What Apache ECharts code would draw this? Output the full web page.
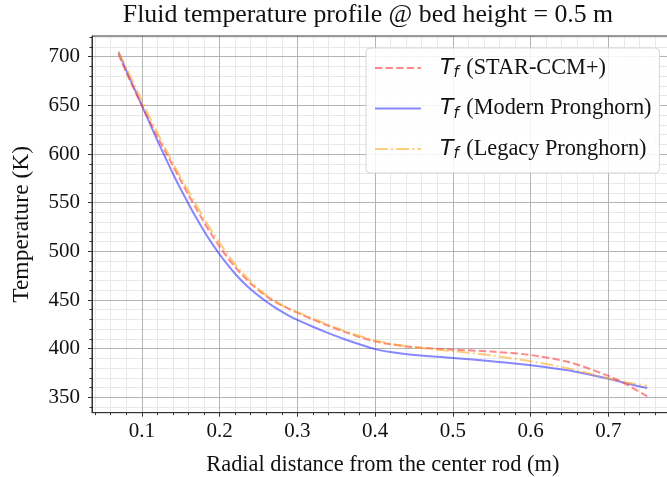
<!DOCTYPE html>
<html><head><meta charset="utf-8">
<script src="https://cdn.jsdelivr.net/npm/echarts@6/dist/echarts.min.js"></script>
<style>html,body{margin:0;padding:0;background:#fff}#c{width:667px;height:477px}</style>
</head><body><div id="c"></div>
<script>
// ---- data ----
const radius = [0.07, 0.08, 0.09, 0.10, 0.11, 0.12, 0.13, 0.14, 0.15, 0.16, 0.17, 0.18,
                0.19, 0.20, 0.21, 0.22, 0.23, 0.24, 0.25, 0.26, 0.27, 0.28, 0.29, 0.30,
                0.32, 0.34, 0.36, 0.38, 0.40, 0.42, 0.45, 0.50, 0.55, 0.60, 0.65, 0.70, 0.725, 0.75];
const tStarCCM = [703, 684, 667, 650, 634, 618, 603, 588, 573, 558, 544, 530,
                  517, 505, 494, 484, 475, 467, 460, 454, 449, 444.5, 440.5, 437,
                  430, 423.5, 417.5, 412, 407.5, 404.5, 401.5, 399, 397, 393.5, 386, 372, 362.5, 351];
const tModern  = [705, 686, 668, 650, 632, 614, 597, 580, 564, 549, 534.5, 521,
                  508.5, 497, 486.5, 477, 468.5, 461, 454.5, 448.5, 443, 438, 433.5, 429.5,
                  422.5, 416, 410, 404.5, 399.5, 396.5, 393.5, 390.5, 387, 383, 377.5, 369, 364, 359.5];
const tLegacy  = [705, 689, 672, 655, 638, 622, 606, 591, 576, 562, 548, 534,
                  521, 509, 497.5, 487, 477.5, 469, 461.5, 455, 449.5, 445, 441, 437.5,
                  431, 424.5, 418.5, 413, 408.5, 405, 401.5, 397.5, 393, 387, 379.5, 369.5, 365, 362];
const seriesNames = ['STAR-CCM+', 'Modern Pronghorn', 'Legacy Pronghorn'];
const xMajorTicks = [0.1, 0.2, 0.3, 0.4, 0.5, 0.6, 0.7];
const xMinorTicks = [0.04, 0.06, 0.08, 0.12, 0.14, 0.16, 0.18, 0.22, 0.24, 0.26, 0.28,
                     0.32, 0.34, 0.36, 0.38, 0.42, 0.44, 0.46, 0.48, 0.52, 0.54, 0.56, 0.58,
                     0.62, 0.64, 0.66, 0.68, 0.72, 0.74, 0.76, 0.78];
const yMajorTicks = [350, 400, 450, 500, 550, 600, 650, 700];
const yMinorTicks = [340, 360, 370, 380, 390, 410, 420, 430, 440, 460, 470, 480, 490,
                     510, 520, 530, 540, 560, 570, 580, 590, 610, 620, 630, 640,
                     660, 670, 680, 690, 710, 720];
const xRange = [0.036, 0.784];
const yRange = [334.2, 721.3];

const serif = 'Liberation Serif';
const pairs = ys => radius.map((x, i) => [x, ys[i]]);

const gridRect = { left: 92, top: 36, width: 581.7, height: 376.7, outerBoundsMode: 'none', containLabel: false };

const chart = echarts.init(document.getElementById('c'), null, { renderer: 'canvas' });
chart.setOption({
  animation: false,
  backgroundColor: '#fff',
  title: {
    text: 'Fluid temperature profile @ bed height = 0.5 m',
    left: 363, top: -3, textAlign: 'center',
    textStyle: { fontFamily: serif, fontSize: 25.8, fontWeight: 'normal', color: '#111' }
  },
  grid: [
    Object.assign({ show: true, borderColor: '#333', borderWidth: 1, backgroundColor: 'transparent', z: 3 }, gridRect),
    Object.assign({ show: false }, gridRect)
  ],
  xAxis: [
    {
      type: 'value', gridIndex: 0, min: xRange[0], max: xRange[1],
      name: 'Radial distance from the center rod (m)', nameLocation: 'middle', nameGap: 41,
      nameTextStyle: { fontFamily: serif, fontSize: 22.4, color: '#111' },
      axisLine: { show: true, onZero: false, lineStyle: { color: '#333', width: 1 } },
      axisTick: { show: true, inside: false, length: 4, customValues: xMajorTicks, lineStyle: { color: '#333', width: 1 } },
      axisLabel: { customValues: xMajorTicks, margin: 8, fontFamily: serif, fontSize: 21, color: '#111',
                   formatter: v => v.toFixed(1) },
      splitLine: { show: true, lineStyle: { color: '#b4b4b4', width: 1 } },
      z: 2
    },
    {
      type: 'value', gridIndex: 1, min: xRange[0], max: xRange[1],
      axisLine: { show: false },
      axisTick: { show: true, inside: false, length: 2.5, customValues: xMinorTicks, lineStyle: { color: '#333', width: 1 } },
      axisLabel: { show: false, customValues: xMinorTicks },
      splitLine: { show: true, lineStyle: { color: '#e8e8e8', width: 1 } },
      z: 1
    }
  ],
  yAxis: [
    {
      type: 'value', gridIndex: 0, min: yRange[0], max: yRange[1],
      name: 'Temperature (K)', nameLocation: 'middle', nameGap: 58,
      nameTextStyle: { fontFamily: serif, fontSize: 23.5, color: '#111' },
      axisLine: { show: true, onZero: false, lineStyle: { color: '#333', width: 1 } },
      axisTick: { show: true, inside: false, length: 4, customValues: yMajorTicks, lineStyle: { color: '#333', width: 1 } },
      axisLabel: { customValues: yMajorTicks, margin: 12, fontFamily: serif, fontSize: 21, color: '#111' },
      splitLine: { show: true, lineStyle: { color: '#b4b4b4', width: 1 } },
      z: 2
    },
    {
      type: 'value', gridIndex: 1, min: yRange[0], max: yRange[1],
      axisLine: { show: false },
      axisTick: { show: true, inside: false, length: 2.5, customValues: yMinorTicks, lineStyle: { color: '#333', width: 1 } },
      axisLabel: { show: false, customValues: yMinorTicks },
      splitLine: { show: true, lineStyle: { color: '#e8e8e8', width: 1 } },
      z: 1
    }
  ],
  legend: {
    orient: 'vertical', left: 366, top: 48,
    padding: [9, 8, 11, 8],
    itemWidth: 46, itemHeight: 14, itemGap: 16.5,
    itemStyle: { opacity: 0 },
    backgroundColor: 'rgba(255,255,255,0.85)', borderColor: '#d6d6d6', borderWidth: 1, borderRadius: 4,
    formatter: name => '{t|T}{s|f}{n| (' + name + ')}',
    textStyle: {
      color: '#111', padding: [0, 0, 0, 14],
      rich: {
        t: { fontFamily: 'DejaVu Sans', fontStyle: 'italic', fontSize: 22, lineHeight: 26, color: '#111' },
        s: { fontFamily: 'DejaVu Sans', fontStyle: 'italic', fontSize: 15, lineHeight: 6, verticalAlign: 'bottom',
             padding: [0, 2, 0, 0], color: '#111' },
        n: { fontFamily: serif, fontSize: 22.3, lineHeight: 26, color: '#111' }
      }
    },
    data: seriesNames
  },
  series: [
    {
      name: seriesNames[0], type: 'line', xAxisIndex: 0, yAxisIndex: 0,
      data: pairs(tStarCCM), showSymbol: false, symbol: 'none', smooth: 0.3, z: 4,
      lineStyle: { color: 'rgba(255,60,60,0.6)', width: 2, type: [7.4, 3.2] },
      itemStyle: { color: 'rgba(255,60,60,0.6)' }
    },
    {
      name: seriesNames[1], type: 'line', xAxisIndex: 0, yAxisIndex: 0,
      data: pairs(tModern), showSymbol: false, symbol: 'none', smooth: 0.3, z: 3,
      lineStyle: { color: 'rgba(40,40,255,0.55)', width: 2, type: 'solid' },
      itemStyle: { color: 'rgba(40,40,255,0.55)' }
    },
    {
      name: seriesNames[2], type: 'line', xAxisIndex: 0, yAxisIndex: 0,
      data: pairs(tLegacy), showSymbol: false, symbol: 'none', smooth: 0.3, z: 5,
      lineStyle: { color: 'rgba(255,170,40,0.6)', width: 2, type: [12.8, 3.2, 2, 3.2] },
      itemStyle: { color: 'rgba(255,170,40,0.6)' }
    }
  ]
});
</script></body></html>
